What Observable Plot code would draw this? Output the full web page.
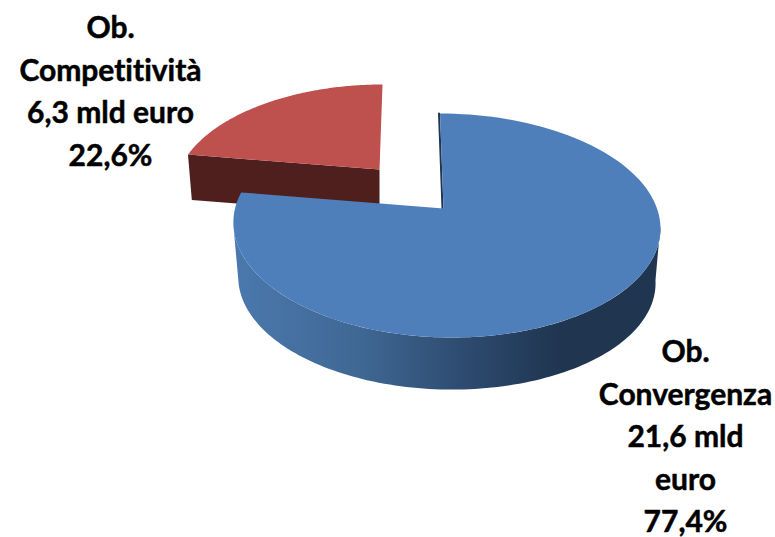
<!DOCTYPE html>
<html><head><meta charset="utf-8">
<script src="https://cdn.jsdelivr.net/npm/d3@7"></script>
<script src="https://cdn.jsdelivr.net/npm/@observablehq/plot@0.6"></script>
<style>html,body{margin:0;padding:0;background:#fff;overflow:hidden}svg{display:block}svg text{font-variant-ligatures:none}</style>
</head><body><div id="chart"></div>
<script>
// Data
const names = ["Ob. Convergenza", "Ob. Competitività"];
const shares = [77.4, 22.6];
const labels = ["Ob.\nConvergenza\n21,6 mld\neuro\n77,4%", "Ob.\nCompetitività\n6,3 mld euro\n22,6%"];

// Layout of the tilted pie
const views = [
  {x0: 445.5, apexDx: -2.5, y0: 208, b: 211, a: 109.4, k: 0.152, shear: -6, floorY: 263, floorS: 0.977},
  {x0: 379, apexDx: 0, y0: 169, b: 200, a: 102, k: 0.2, shear: 3, floorY: 214, floorS: 0.98}
];
const labelAt = [{x: 685, y: 433}, {x: 110, y: 88}];

const tau = 2 * Math.PI;
const cum = d3.cumsum(shares);
const total = d3.sum(shares);
const angles = shares.map((s, i) => ({start: (cum[i] - s) / total * tau, end: cum[i] / total * tau}));

function project(theta, v, floor) {
  const X = Math.sin(theta), Y = Math.cos(theta), w = 1 + v.k * Y;
  const s = floor ? v.floorS : 1;
  return {x: v.x0 + s * v.b * X / w + v.shear * Y, y: (floor ? v.floorY : v.y0) - s * v.a * Y / w};
}
function arc(a0, a1, v, floor) {
  const n = 120;
  return d3.range(n + 1).map(i => project(a0 + (a1 - a0) * i / n, v, floor));
}
const apex = (v, floor) => ({x: v.x0 + v.apexDx, y: floor ? v.floorY : v.y0});

// Blue slice
const bv = views[0], ba = angles[0];
const blueTop = [apex(bv), ...arc(ba.start, ba.end, bv)];
const silhouette = Math.acos(-bv.k);
const blueWall = [...arc(silhouette, tau - silhouette, bv), ...arc(tau - silhouette, silhouette, bv, true)];
const blueInner = [project(ba.start, bv), apex(bv)];

// Red slice, pulled out
const rv = views[1], ra = angles[1];
const redTop = [apex(rv), ...arc(ra.start, ra.end, rv)];
const redWall = [project(ra.start, rv), apex(rv), apex(rv, true), project(ra.start, rv, true)];

const gradient = () => {
  const defs = d3.create("svg:defs");
  const g = defs.append("linearGradient").attr("id", "wall").attr("gradientUnits", "userSpaceOnUse")
    .attr("x1", 237).attr("x2", 653).attr("y1", 0).attr("y2", 0);
  [[0, "#4a78ad"], [0.3, "#3f6793"], [0.55, "#2d4a6f"], [0.78, "#1f3550"], [1, "#1f3550"]]
    .forEach(([o, c]) => g.append("stop").attr("offset", o).attr("stop-color", c));
  return defs.node();
};

const shape = (pts, fill) => Plot.line(pts, {x: "x", y: "y", fill, stroke: "none"});

const chart = Plot.plot({
  width: 775, height: 537, margin: 0,
  x: {type: "identity", axis: null},
  y: {type: "identity", axis: null},
  style: {background: "#fff"},
  marks: [
    gradient,
    shape(redWall, "#4f1f1d"),
    shape(redTop, "#be504e"),
    shape(blueWall, "url(#wall)"),
    Plot.line(blueInner, {x: "x", y: "y", stroke: "#1f3550", strokeWidth: 2, dx: -1}),
    shape(blueTop, "#4e7fbb"),
    Plot.text(labels, {
      x: (d, i) => labelAt[i].x, y: (d, i) => labelAt[i].y,
      text: d => d, lineHeight: 1.42, textAnchor: "middle", lineAnchor: "middle",
      fontFamily: "Lato", fontWeight: 700, fontSize: 30, fill: "#000",
      stroke: "#000", strokeWidth: 0.5
    })
  ]
});
document.getElementById("chart").append(chart);
</script></body></html>
